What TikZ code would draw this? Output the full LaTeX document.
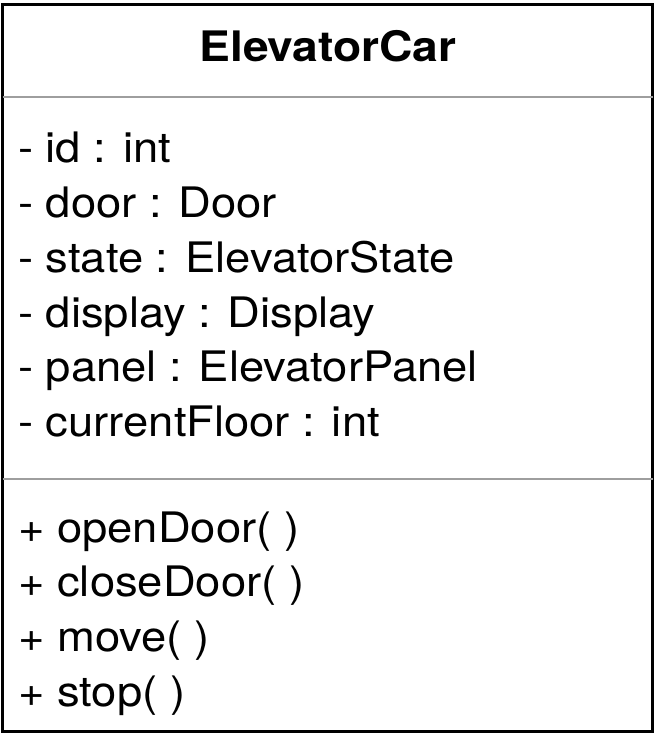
\documentclass[tikz,border=0pt]{standalone}
\usepackage{fontspec}
\setmainfont{TeX Gyre Heros}
\newfontfamily\umlfont[FakeStretch=1.08]{TeX Gyre Heros}
\newfontfamily\umltitlefont[FakeStretch=1.1]{TeX Gyre Heros}
\definecolor{sepgray}{HTML}{9E9E9E}
\tikzset{
  member/.style={anchor=base west, inner sep=0pt, font=\umlfont\fontsize{42}{42}\selectfont},
  classname/.style={anchor=center, inner sep=0pt, font=\umltitlefont\fontsize{42}{42}\selectfont\bfseries},
  frame/.style={draw=black, line width=3pt},
  divider/.style={draw=sepgray, line width=2.5pt}
}
\begin{document}
\begin{tikzpicture}[x=1pt, y=-1pt]
  \useasboundingbox (0,0) rectangle (656,740);
  % class box
  \draw[frame] (2.5,4.5) rectangle (652.5,731.5);
  \coordinate (d1l) at (2.5,97);
  \coordinate (d1r) at (652.5,97);
  \coordinate (d2l) at (2.5,479);
  \coordinate (d2r) at (652.5,479);
  \draw[divider] (d1l) -- (d1r);
  \draw[divider] (d2l) -- (d2r);
  % class name
  \node[classname] (title) at (328,46) {ElevatorCar};
  % attributes
  \node[member] (a1) at (18,162) {- id : int};
  \node[member] (a2) at (18,217) {- door : Door};
  \node[member] (a3) at (18,272) {- state : ElevatorState};
  \node[member] (a4) at (18,327) {- display : Display};
  \node[member] (a5) at (18,381) {- panel : ElevatorPanel};
  \node[member] (a6) at (18,436) {- currentFloor : int};
  % operations
  \node[member] (m1) at (18,542) {+ openDoor( )};
  \node[member] (m2) at (18,596) {+ closeDoor( )};
  \node[member] (m3) at (18,651) {+ move( )};
  \node[member] (m4) at (18,706) {+ stop( )};
\end{tikzpicture}
\end{document}
